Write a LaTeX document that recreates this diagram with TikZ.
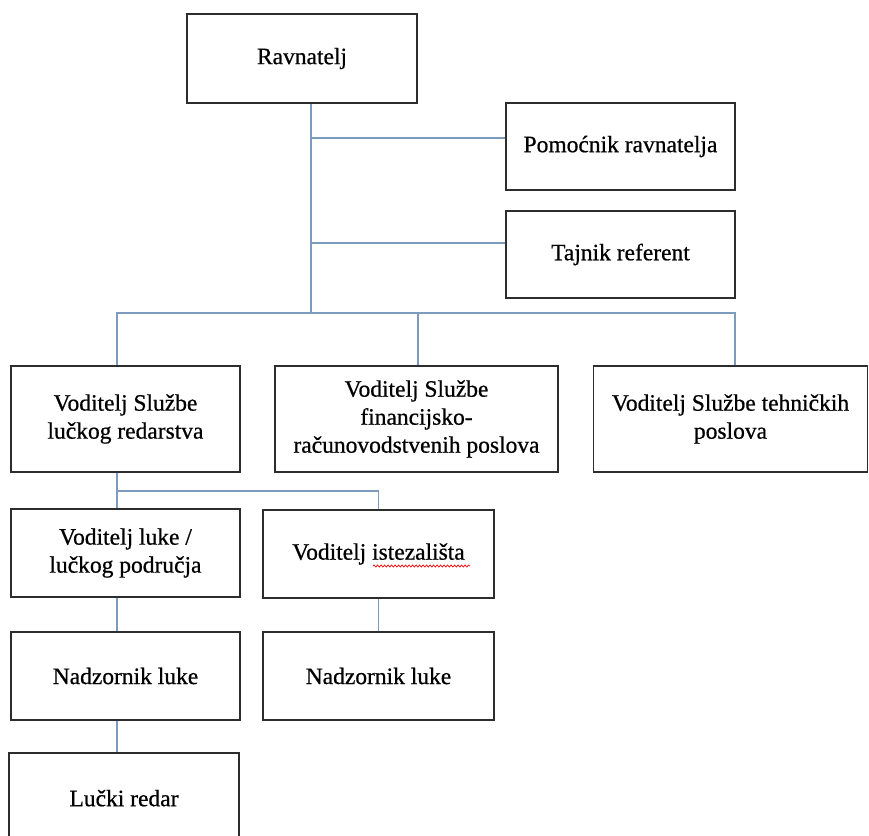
\documentclass[tikz,border=0pt]{standalone}
\usepackage{fontspec}
\setmainfont{Liberation Serif}
\newfontfamily\scanfont{Liberation Serif}[FakeBold=0.7]
\usetikzlibrary{decorations.pathmorphing}
\definecolor{boxc}{RGB}{45,45,45}
\definecolor{connc}{RGB}{125,155,190}
\begin{document}
\begin{tikzpicture}[x=1pt,y=-1pt,
  box/.style={draw=boxc, line width=1.6pt, inner sep=0pt, align=center,
    font=\scanfont\fontsize{23.5}{28}\selectfont, text=black},
  conn/.style={draw=connc, line width=1.3pt},
  squig/.style={draw=red, line width=0.7pt, decorate,
    decoration={snake, amplitude=1pt, segment length=3.5pt}}]
\useasboundingbox (0,0) rectangle (869,835);
\clip (0,0) rectangle (869,835);
% boxes
\node[box, minimum width=230pt, minimum height=89pt] (rav) at (302,58.5) {Ravnatelj};
\node[box, minimum width=229pt, minimum height=87pt] (pom) at (620.5,146.5) {Pomoćnik ravnatelja};
\node[box, minimum width=229pt, minimum height=87pt] (taj) at (620.5,254.5) {Tajnik referent};
\node[box, minimum width=229pt, minimum height=106pt] (luc) at (125.5,419) {Voditelj Službe\\lučkog redarstva};
\node[box, minimum width=283pt, minimum height=106pt] (fin) at (416.5,419) {Voditelj Službe\\financijsko-\\računovodstvenih poslova};
\node[box, minimum width=274pt, minimum height=106pt] (teh) at (730.5,419) {Voditelj Službe tehničkih\\poslova};
\node[box, minimum width=229pt, minimum height=88pt] (vlu) at (125.5,553) {Voditelj luke /\\lučkog područja};
\node[box, minimum width=231pt, minimum height=88pt] (ist) at (378.5,554) {Voditelj istezališta};
\node[box, minimum width=229pt, minimum height=88pt] (nad1) at (125.5,676) {Nadzornik luke};
\node[box, minimum width=231pt, minimum height=88pt] (nad2) at (378.5,676) {Nadzornik luke};
\node[box, minimum width=230pt, minimum height=90pt, text depth=0pt] (red) at (124,798) {Lučki redar};
% spell-check underline
\draw[squig] (373,566) -- (470,566);
% connectors
\coordinate (b1) at (311,313);
\coordinate (bl) at (117,313);
\coordinate (br) at (735,313);
\coordinate (bf) at (418,313);
\draw[conn] (rav.south -| b1) -- (b1);
\draw[conn] (b1 |- 0,138) -- (pom.west |- 0,138);
\draw[conn] (b1 |- 0,243) -- (taj.west |- 0,243);
\draw[conn] (luc.north -| bl) -- (bl) -- (br) -- (teh.north -| br);
\draw[conn] (bf) -- (fin.north -| bf);
\coordinate (b2) at (117,491);
\draw[conn] (luc.south -| b2) -- (b2) -- (vlu.north -| b2);
\draw[conn] (b2) -| (ist.north);
\draw[conn] (vlu.south -| b2) -- (nad1.north -| b2);
\draw[conn] (ist.south) -- (nad2.north);
\draw[conn] (nad1.south -| b2) -- (red.north -| b2);
\end{tikzpicture}
\end{document}
